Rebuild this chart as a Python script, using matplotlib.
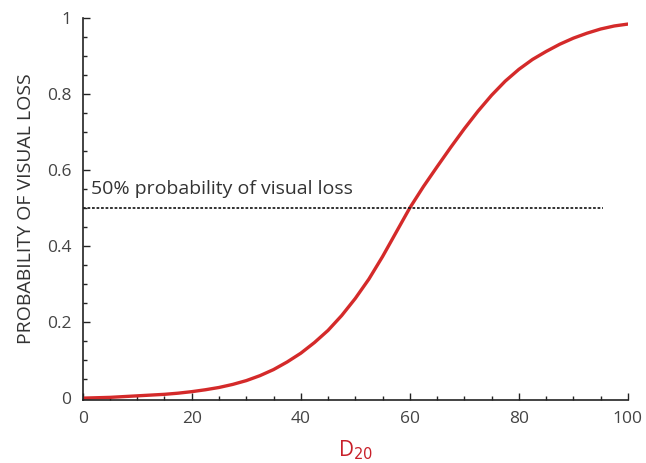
import matplotlib
matplotlib.use("Agg")
import matplotlib.pyplot as plt
from matplotlib.ticker import MultipleLocator

plt.rcParams['font.family'] = ['Open Sans', 'DejaVu Sans']

d20 = [0, 2.5, 5, 7.5, 10, 12.5, 15, 17.5, 20, 22.5, 25, 27.5, 30, 32.5, 35, 37.5,
       40, 42.5, 45, 47.5, 50, 52.5, 55, 57.5, 60, 62.5, 65, 67.5, 70, 72.5, 75, 77.5,
       80, 82.5, 85, 87.5, 90, 92.5, 95, 97.5, 100]
prob = [0.0, 0.001, 0.002, 0.004, 0.006, 0.008, 0.010, 0.013, 0.017, 0.022, 0.028, 0.036,
        0.046, 0.059, 0.075, 0.095, 0.118, 0.146, 0.178, 0.217, 0.262, 0.313, 0.372, 0.436,
        0.500, 0.556, 0.608, 0.659, 0.708, 0.754, 0.796, 0.833, 0.864, 0.890, 0.911, 0.930,
        0.946, 0.959, 0.970, 0.978, 0.983]
ref_x = [0, 95.5]
ref_y = [0.5, 0.5]
ref_label = "50% probability of visual loss"
xticks = [0, 20, 40, 60, 80, 100]
yticks = [0, 0.2, 0.4, 0.6, 0.8, 1]
yticklabels = ["0", "0.2", "0.4", "0.6", "0.8", "1"]

fig = plt.figure(figsize=(6.46, 4.63), dpi=100)
ax = fig.add_axes([0.128, 0.136, 0.844, 0.826])

ax.plot(d20, prob, color='#d42a2a', lw=2.4, solid_capstyle='round', solid_joinstyle='round')
ax.plot(ref_x, ref_y, color='#222222', lw=1.3, linestyle=(0, (1.5, 1)))
ax.text(1.5, 0.525, ref_label, fontsize=14, color='#333333', ha='left', va='bottom')

ax.set_xlim(0, 100)
ax.set_ylim(-0.005, 1)
ax.set_xticks(xticks)
ax.set_yticks(yticks)
ax.set_yticklabels(yticklabels)
ax.xaxis.set_minor_locator(MultipleLocator(5))
ax.yaxis.set_minor_locator(MultipleLocator(0.05))
ax.tick_params(which='major', direction='in', length=5, width=1, labelsize=12.5,
               labelcolor='#444444', color='#222222', pad=8)
ax.tick_params(which='minor', direction='in', length=3, width=1, color='#222222')
for s in ['top', 'right']:
    ax.spines[s].set_visible(False)
for s in ['left', 'bottom']:
    ax.spines[s].set_color('#222222')
    ax.spines[s].set_linewidth(1.2)

ax.set_xlabel("D$_{20}$", color='#c8202a', fontsize=15, labelpad=8)
ax.set_ylabel("PROBABILITY OF VISUAL LOSS", color='#333333', fontsize=14, labelpad=9)

fig.savefig("out.png", dpi=100)
